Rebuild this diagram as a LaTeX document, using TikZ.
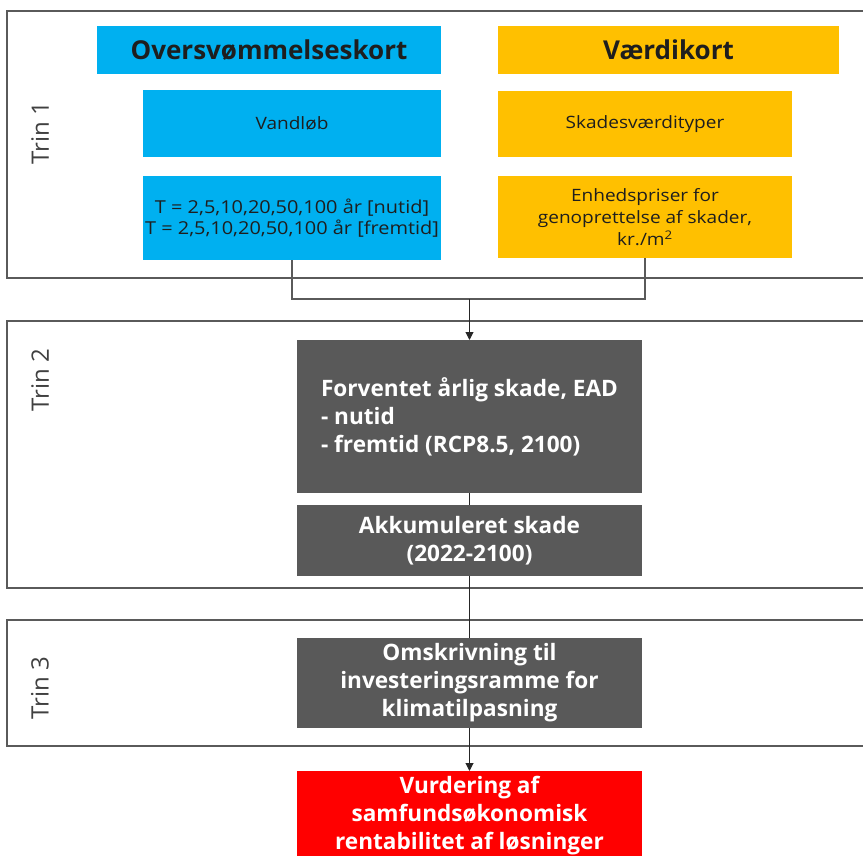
\documentclass[tikz,border=0pt]{standalone}
\usepackage{fontspec}
\setmainfont{Open Sans}
\newfontfamily\widesans[FakeStretch=1.12]{Open Sans}
\usetikzlibrary{arrows.meta}

\definecolor{floodblue}{HTML}{00B0F0}
\definecolor{valueyellow}{HTML}{FFC000}
\definecolor{stepgray}{HTML}{595959}
\definecolor{resultred}{HTML}{FF0000}
\definecolor{framegray}{HTML}{5A5A5A}
\definecolor{inktext}{HTML}{1E1E1E}
\definecolor{labelgray}{HTML}{404040}

\tikzset{
  panel/.style={draw=framegray, line width=2pt},
  box/.style={inner sep=0pt, outer sep=0pt, align=center},
  headbox/.style={box, text=inktext, font=\bfseries\fontsize{26}{30}\selectfont},
  smallbox/.style={box, text=inktext, font=\widesans\fontsize{17}{21}\selectfont},
  darkbox/.style={box, fill=stepgray, text=white, font=\bfseries\fontsize{22.6}{28}\selectfont},
  trinlabel/.style={rotate=90, text=labelgray, font=\fontsize{24}{28}\selectfont},
  joinline/.style={draw=framegray, line width=1.2pt},
  flow/.style={draw=black!85, line width=1pt},
  flowarrow/.style={flow, -{Triangle[length=8pt, width=8pt]}},
}

\begin{document}
\begin{tikzpicture}[x=1pt, y=-1pt]
  \useasboundingbox (0,0) rectangle (863,856);
  \clip (0,0) rectangle (863,856);

  % the three step panels
  \draw[panel] (7,11) rectangle (880,278);
  \draw[panel] (7,321) rectangle (880,588);
  \draw[panel] (7,620) rectangle (880,746);

  \node[trinlabel] (t1) at (40,133) {Trin 1};
  \node[trinlabel] (t2) at (40,380) {Trin 2};
  \node[trinlabel] (t3) at (40,688) {Trin 3};

  % step 1: flood maps and value maps
  \node[headbox, fill=floodblue, minimum width=344pt, minimum height=48pt] (ovk) at (269,50) {Oversvømmelseskort};
  \node[headbox, fill=valueyellow, minimum width=341pt, minimum height=48pt] (vk) at (668.5,50) {Værdikort};

  \node[smallbox, fill=floodblue, minimum width=298pt, minimum height=67pt] (vand) at (292,123.5) {Vandløb};
  \node[smallbox, fill=valueyellow, minimum width=294pt, minimum height=66pt] (skv) at (645,124) {Skadesværdityper};

  \node[smallbox, fill=floodblue, minimum width=298pt, minimum height=84pt,
        font=\widesans\fontsize{17.8}{21}\selectfont] (tper) at (292,218)
    {T = 2,5,10,20,50,100 år [nutid]\\T = 2,5,10,20,50,100 år [fremtid]};
  \node[smallbox, fill=valueyellow, minimum width=294pt, minimum height=82pt,
        font=\widesans\fontsize{17}{22}\selectfont] (enh) at (645,217)
    {Enhedspriser for\\genoprettelse af skader,\\kr./m\textsuperscript{2}};

  % step 2: expected annual damage and accumulated damage
  \node[darkbox, minimum width=345pt, minimum height=153pt, align=left] (ead) at (469.5,416.5)
    {Forventet årlig skade, EAD\\- nutid\\- fremtid (RCP8.5, 2100)};
  \node[darkbox, minimum width=345pt, minimum height=71pt] (akk) at (469.5,540.5)
    {Akkumuleret skade\\(2022-2100)};

  % step 3: investment frame
  \node[darkbox, minimum width=345pt, minimum height=90pt] (oms) at (469.5,683)
    {Omskrivning til\\investeringsramme for\\klimatilpasning};

  % result
  \node[darkbox, fill=resultred, minimum width=345pt, minimum height=90pt] (vur) at (469.5,816)
    {Vurdering af\\samfundsøkonomisk\\rentabilitet af løsninger};

  % connectors
  \coordinate (join) at (469.5,299);
  \draw[joinline] (tper.south) -- (tper.south |- join) -- (enh.south |- join) -- (enh.south);
  \draw[flowarrow] (join) -- (ead.north);
  \draw[flow] (ead.south) -- (akk.north);
  \draw[flow] (akk.south) -- (oms.north);
  \draw[flowarrow] (oms.south) -- (vur.north);
\end{tikzpicture}
\end{document}
